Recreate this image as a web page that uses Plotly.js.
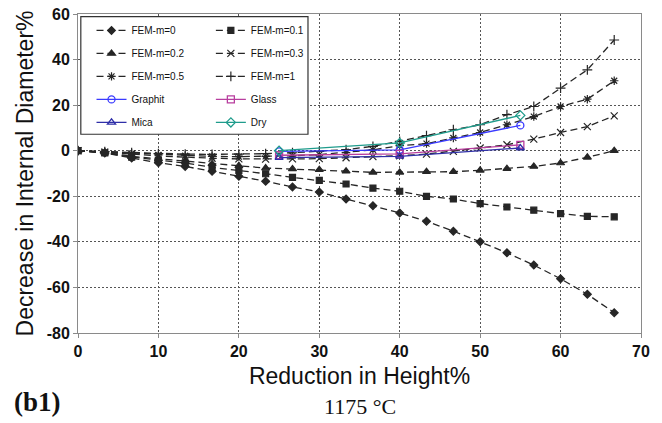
<!DOCTYPE html>
<html>
<head>
<meta charset="utf-8">
<script src="https://cdn.plot.ly/plotly-3.0.1.min.js"></script>
<style>
html,body{margin:0;padding:0;background:#fff;}
#chart{width:662px;height:423px;}
</style>
</head>
<body>
<div id="chart"></div>
<script>
// ---- data ----
const femX = [0, 3.33, 6.67, 10, 13.33, 16.67, 20, 23.33, 26.67, 30, 33.33, 36.67, 40, 43.33, 46.67, 50, 53.33, 56.67, 60, 63.33, 66.67];
const femM0   = [0, -1, -3.2, -5.3, -6.9, -9, -11.2, -13.4, -15.9, -18.1, -21.2, -24.1, -27.3, -31, -35.3, -40, -44.8, -50.2, -56.2, -63, -71.1];
const femM01  = [0, -1, -2.8, -4.2, -5.4, -7.3, -8.6, -10.1, -11.7, -13, -14.6, -16.4, -17.8, -20, -21.2, -23.2, -24.7, -26.1, -27.6, -28.8, -29];
const femM02  = [0, -0.7, -2.5, -3.6, -4.7, -5.8, -6.6, -7.6, -8.0, -8.3, -9.0, -9.5, -9.5, -9.2, -9.2, -8.6, -7.9, -6.9, -5.4, -2.9, 0];
const femM03  = [0, -0.6, -1.5, -2.3, -2.9, -3.3, -3.6, -3.7, -3.6, -3.5, -3.1, -2.6, -2.2, -1.5, -0.3, 1.2, 2.6, 5.1, 8.0, 10.6, 15.3];
const femM05  = [0, -0.5, -1.2, -1.8, -2.2, -2.5, -2.6, -2.5, -2.2, -1.7, -0.8, 0.4, 2.2, 3.1, 5.6, 8.0, 11.4, 15.0, 19.4, 22.6, 30.7];
const femM1   = [0, -0.4, -0.9, -1.3, -1.5, -1.6, -1.5, -1.3, -0.9, -0.3, 0.5, 1.9, 4.1, 6.6, 9.2, 11.4, 15.8, 19.4, 27.5, 35.5, 48.6];

const expX     = [25, 40, 55];
const graphit  = [-0.3, 0.4, 11.1];
const glass    = [-2.0, -1.4, 2.6];
const mica     = [-3.0, -2.5, 1.2];
const dry      = [0.0, 3.4, 15.5];

const xTicks = [0, 10, 20, 30, 40, 50, 60, 70];
const yTicks = [-80, -60, -40, -20, 0, 20, 40, 60];

const xTitle = 'Reduction in Height%';
const yTitle = 'Decrease in Internal Diameter%';
const panelLabel = '(b1)';
const tempLabel = '1175 °C';

// ---- styling ----
const femColor = '#262626';
const femDash = '7px,4px';
function fem(name, y, symbol, size, legend) {
  return {
    x: femX, y: y, name: name, type: 'scatter', mode: 'lines+markers',
    line: {color: femColor, width: 1.3, dash: femDash},
    marker: {symbol: symbol, size: size, color: femColor, line: {color: femColor, width: 1.2}},
    legend: legend, legendgroup: name
  };
}
function exp(name, y, symbol, color, legend) {
  return {
    x: expX, y: y, name: name, type: 'scatter', mode: 'lines+markers',
    line: {color: color, width: 1.3},
    marker: {symbol: symbol, size: 7, color: color, line: {color: color, width: 1.3}},
    legend: legend, legendgroup: name
  };
}

const traces = [
  fem('FEM-m=0', femM0, 'diamond', 6, 'legend'),
  fem('FEM-m=0.1', femM01, 'square', 6, 'legend2'),
  fem('FEM-m=0.2', femM02, 'triangle-up', 7, 'legend'),
  fem('FEM-m=0.3', femM03, 'x-thin-open', 7, 'legend2'),
  fem('FEM-m=0.5', femM05, 'asterisk-open', 7, 'legend'),
  fem('FEM-m=1', femM1, 'cross-thin-open', 7, 'legend2'),
  exp('Graphit', graphit, 'circle-open', '#3a3aff', 'legend'),
  exp('Glass', glass, 'square-open', '#b83e9e', 'legend2'),
  exp('Mica', mica, 'triangle-up-open', '#2f2fa8', 'legend'),
  exp('Dry', dry, 'diamond-open', '#1f9c8c', 'legend2')
];

const legendCommon = {
  bgcolor: 'rgba(0,0,0,0)', borderwidth: 0,
  font: {family: 'Arial, "Liberation Sans", sans-serif', size: 10, color: '#111'},
  tracegroupgap: 4, xanchor: 'left', yanchor: 'top', itemwidth: 30
};

const axisCommon = {
  showline: true, linecolor: '#8a8a8a', linewidth: 1, mirror: true,
  ticks: 'outside', ticklen: 4, tickcolor: '#8a8a8a',
  showgrid: true, gridcolor: '#555', gridwidth: 1, griddash: '2px,2px',
  zeroline: false,
  tickfont: {family: 'Arial, "Liberation Sans", sans-serif', size: 16, color: '#111', weight: 'bold'}
};

const layout = {
  width: 662, height: 423,
  margin: {l: 78, r: 21, t: 13.5, b: 89.7},
  paper_bgcolor: '#fff', plot_bgcolor: '#fff',
  showlegend: true,
  xaxis: Object.assign({}, axisCommon, {
    range: [0, 70], tickvals: xTicks, ticktext: xTicks.map(String),
    title: {text: xTitle, standoff: 8, font: {family: 'Arial, "Liberation Sans", sans-serif', size: 23, color: '#111'}}
  }),
  yaxis: Object.assign({}, axisCommon, {
    range: [-80, 60], tickvals: yTicks, ticktext: yTicks.map(String),
    title: {text: yTitle, standoff: 6, font: {family: 'Arial, "Liberation Sans", sans-serif', size: 23, color: '#111'}}
  }),
  legend: Object.assign({}, legendCommon, {x: 0.024, y: 0.994}),
  legend2: Object.assign({}, legendCommon, {x: 0.236, y: 0.994}),
  shapes: [{
    type: 'rect', xref: 'paper', yref: 'paper',
    x0: 0.005, x1: 0.4085, y0: 0.623, y1: 0.992,
    line: {color: '#333', width: 1.2}, fillcolor: '#fff', layer: 'above'
  }],
  annotations: [
    {text: panelLabel, xref: 'paper', yref: 'paper', x: -0.117, y: -0.2, xanchor: 'left', yanchor: 'middle',
     yshift: -5, showarrow: false, font: {family: '"Liberation Serif", "Times New Roman", serif', size: 27, color: '#111', weight: 'bold'}},
    {text: tempLabel, xref: 'paper', yref: 'paper', x: 0.5, y: -0.2, xanchor: 'center', yanchor: 'middle',
     yshift: -10, showarrow: false, font: {family: '"Liberation Serif", "Times New Roman", serif', size: 22, color: '#111'}}
  ]
};

Plotly.newPlot('chart', traces, layout, {displayModeBar: false, staticPlot: true});
</script>
</body>
</html>
